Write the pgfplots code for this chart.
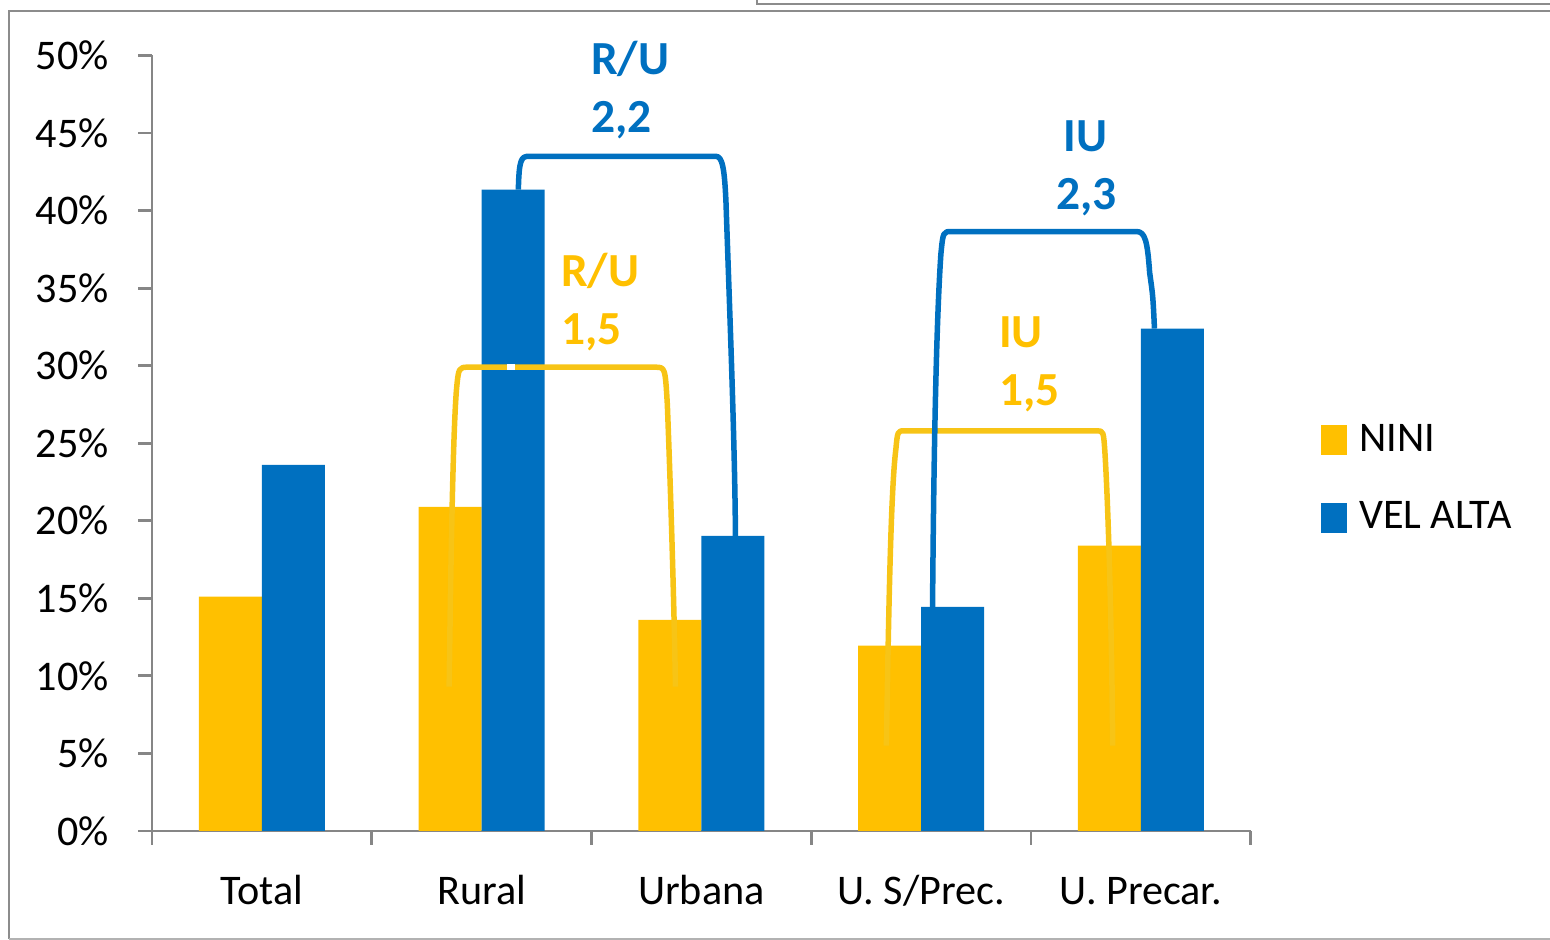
\documentclass[border=0pt]{standalone}
\usepackage{pgfplots}
\pgfplotsset{compat=1.18}
\usepackage{fontspec}
\setmainfont{Carlito}
\definecolor{cY}{RGB}{255,192,0}
\definecolor{cB}{RGB}{0,112,192}
\definecolor{cYl}{RGB}{247,196,22}
\definecolor{axg}{RGB}{134,134,134}
\definecolor{frg}{RGB}{140,140,140}
\begin{document}
\begin{tikzpicture}[x=0.01cm,y=0.01cm]
\useasboundingbox (0,0) rectangle (1550,940);
% frame
\draw[frg, line width=0.028cm] (9,1) -- (9,929) -- (1550,929);
\draw[black!30, line width=0.02cm] (9,1) -- (1550,1);
\draw[frg, line width=0.02cm] (757,940) -- (757,936) -- (1550,936);
\begin{axis}[
  at={(1.52cm,1.09cm)}, anchor=south west,
  scale only axis, width=10.98cm, height=7.75cm,
  xmin=-0.5, xmax=4.5, ymin=0, ymax=50,
  axis x line*=bottom, axis y line*=left,
  axis line style={axg, line width=0.028cm},
  every tick/.style={axg, line width=0.028cm},
  tick align=outside, major tick length=0.14cm,
  xtick={-0.5,0.5,1.5,2.5,3.5,4.5},
  xticklabels={Total,Rural,Urbana,U. S/Prec.,U. Precar.,},
  xticklabel style={xshift=1.098cm, yshift=-0.15cm, text height=9pt, text depth=2.5pt},
  ytick={0,5,...,50},
  yticklabel={\pgfmathprintnumber{\tick}\%},
  yticklabel style={xshift=-0.17cm},
  /pgf/number format/assume math mode=true,
  tick label style={font=\fontsize{12}{14}\selectfont, text=black},
  clip=false,
  legend style={at={(1.0538,0.454)}, anchor=west, draw=none, fill=none,
    font=\fontsize{12}{14}\selectfont, row sep=0.31cm},
  legend cell align=left,
]
\addplot[ybar, fill=cY, draw=none, bar width=0.63cm, bar shift=-0.315cm,
  legend image code/.code={\fill[cY] (0cm,-0.15cm) rectangle (0.26cm,0.15cm); \path (0.31cm,0);}]
  coordinates {(0,15.10) (1,20.90) (2,13.61) (3,11.94) (4,18.39)};
\addplot[ybar, fill=cB, draw=none, bar width=0.63cm, bar shift=0.315cm,
  legend image code/.code={\fill[cB] (0cm,-0.15cm) rectangle (0.26cm,0.15cm); \path (0.31cm,0);}]
  coordinates {(0,23.61) (1,41.35) (2,19.03) (3,14.45) (4,32.39)};
\legend{NINI, VEL ALTA}
% yellow brackets
\draw[cYl, line width=0.055cm, line join=round]
  (axis cs:0.852,9.3) .. controls (axis cs:0.862,20) and (axis cs:0.872,26) .. (axis cs:0.885,28.4)
  .. controls (axis cs:0.895,29.9) .. (axis cs:0.94,29.9) -- (axis cs:1.79,29.9)
  .. controls (axis cs:1.835,29.9) .. (axis cs:1.845,27.5)
  .. controls (axis cs:1.86,22) and (axis cs:1.875,15) .. (axis cs:1.882,9.3);
\draw[white, line width=0.06cm] (axis cs:1.117,29.9) -- (axis cs:1.153,29.9);
\draw[cYl, line width=0.055cm, line join=round]
  (axis cs:2.842,5.5) .. controls (axis cs:2.852,14) and (axis cs:2.862,22) .. (axis cs:2.885,24.6)
  .. controls (axis cs:2.893,25.8) .. (axis cs:2.925,25.8) -- (axis cs:3.80,25.8)
  .. controls (axis cs:3.83,25.8) .. (axis cs:3.837,24.3)
  .. controls (axis cs:3.855,20) and (axis cs:3.868,12) .. (axis cs:3.872,5.5);
% blue brackets
\draw[cB, line width=0.055cm, line join=round]
  (axis cs:1.167,41.35) .. controls (axis cs:1.170,43.3) and (axis cs:1.180,43.5) .. (axis cs:1.215,43.5)
  -- (axis cs:2.065,43.5) .. controls (axis cs:2.095,43.5) and (axis cs:2.105,42.8) .. (axis cs:2.112,40.5)
  .. controls (axis cs:2.13,33) and (axis cs:2.152,25) .. (axis cs:2.155,19.03);
\draw[cB, line width=0.055cm, line join=round]
  (axis cs:3.052,14.45) .. controls (axis cs:3.058,25) and (axis cs:3.07,33) .. (axis cs:3.09,37.2)
  .. controls (axis cs:3.1,38.65) .. (axis cs:3.14,38.65) -- (axis cs:3.98,38.65)
  .. controls (axis cs:4.02,38.65) and (axis cs:4.03,38) .. (axis cs:4.04,36)
  .. controls (axis cs:4.055,34.5) .. (axis cs:4.062,32.39);
% labels
\node[anchor=base west, inner sep=0pt, text=cB, font=\bfseries\fontsize{13.5}{16}\selectfont] at (axis cs:1.495,48.77) {R/U};
\node[anchor=base west, inner sep=0pt, text=cB, font=\bfseries\fontsize{13.5}{16}\selectfont] at (axis cs:1.495,45.03) {2,2};
\node[anchor=base west, inner sep=0pt, text=cY, font=\bfseries\fontsize{13.5}{16}\selectfont] at (axis cs:1.358,35.10) {R/U};
\node[anchor=base west, inner sep=0pt, text=cY, font=\bfseries\fontsize{13.5}{16}\selectfont] at (axis cs:1.358,31.35) {1,5};
\node[anchor=base, inner sep=0pt, text=cB, font=\bfseries\fontsize{13.5}{16}\selectfont] at (axis cs:3.749,43.80) {IU};
\node[anchor=base, inner sep=0pt, text=cB, font=\bfseries\fontsize{13.5}{16}\selectfont] at (axis cs:3.752,40.06) {2,3};
\node[anchor=base west, inner sep=0pt, text=cY, font=\bfseries\fontsize{13.5}{16}\selectfont] at (axis cs:3.352,31.16) {IU};
\node[anchor=base west, inner sep=0pt, text=cY, font=\bfseries\fontsize{13.5}{16}\selectfont] at (axis cs:3.352,27.42) {1,5};
\end{axis}
\end{tikzpicture}
\end{document}
